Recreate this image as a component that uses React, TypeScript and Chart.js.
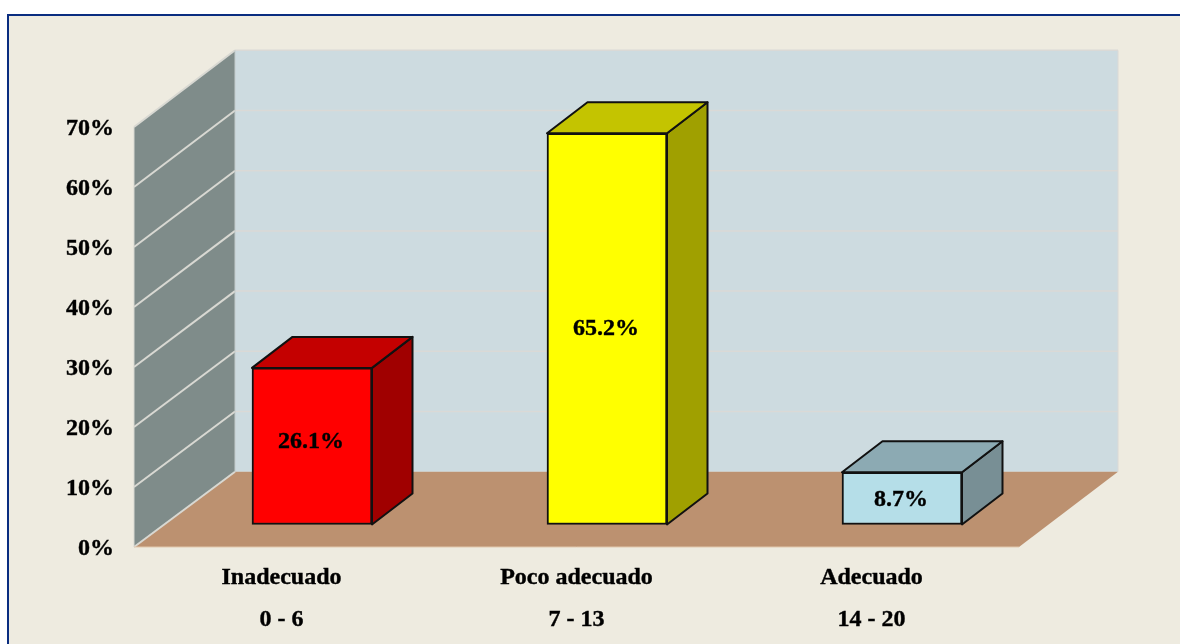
import React, { useEffect, useRef } from "react";
import { Chart, registerables } from "chart.js";

Chart.register(...registerables);

const categories = [["Inadecuado", "0 - 6"], ["Poco adecuado", "7 - 13"], ["Adecuado", "14 - 20"]];
const values = [26.1, 65.2, 8.7];
const valueLabels = ["26.1%", "65.2%", "8.7%"];
const frontColors = ["#FF0000", "#FFFF00", "#B5DEE8"];
const topColors = ["#C40000", "#C4C400", "#8CAAB3"];
const sideColors = ["#A00000", "#A0A000", "#788F95"];
const labelNudge = [-4, 0, 1];

const FONT = { family: '"Liberation Serif", serif', size: 24, weight: "bold" as const };
const WALL_DX_LEFT = 101;
const WALL_DX_RIGHT = 99;
const WALL_DY_FLOOR = 75.3;
const WALL_DY_TOP = 76.7;
const BAR_SHIFT_X = 30.5;
const BAR_SHIFT_Y = 22.5;
const BAR_DX = 40.5;
const BAR_DY = 31;

function poly(ctx: CanvasRenderingContext2D, pts: number[][], fill?: string, stroke?: string, lw = 2) {
  ctx.beginPath();
  pts.forEach((p, i) => (i ? ctx.lineTo(p[0], p[1]) : ctx.moveTo(p[0], p[1])));
  ctx.closePath();
  if (fill) {
    ctx.fillStyle = fill;
    ctx.fill();
  }
  if (stroke) {
    ctx.strokeStyle = stroke;
    ctx.lineWidth = lw;
    ctx.lineJoin = "round";
    ctx.stroke();
  }
}

function segment(ctx: CanvasRenderingContext2D, x1: number, y1: number, x2: number, y2: number, color: string, lw: number) {
  ctx.beginPath();
  ctx.moveTo(x1, y1);
  ctx.lineTo(x2, y2);
  ctx.strokeStyle = color;
  ctx.lineWidth = lw;
  ctx.stroke();
}

const box3d = {
  id: "box3d",
  beforeDatasetsDraw(chart: any) {
    const { ctx, chartArea: a, scales } = chart;
    const y = scales.y;
    const backY = (v: number) => y.getPixelForValue(v) - WALL_DY_FLOOR - ((WALL_DY_TOP - WALL_DY_FLOOR) * v) / 70;
    const top = y.getPixelForValue(70);
    const bottom = y.getPixelForValue(0);
    const bl = a.left + WALL_DX_LEFT;
    const br = a.right + WALL_DX_RIGHT;
    ctx.save();
    // back wall
    poly(ctx, [[bl, backY(70)], [br, backY(70)], [br, backY(0)], [bl, backY(0)]], "#CDDBE0");
    // side wall
    poly(ctx, [[a.left, top], [bl, backY(70)], [bl, backY(0)], [a.left, bottom]], "#7F8C8A");
    // floor
    poly(ctx, [[a.left, bottom], [bl, backY(0)], [br, backY(0)], [a.right, bottom]], "#BC9170");
    // grid
    y.ticks.forEach((t: any) => {
      const py = y.getPixelForValue(t.value);
      if (t.value > 0) {
        segment(ctx, bl, backY(t.value), br, backY(t.value), "#DAD9D6", 1.5);
      }
      segment(ctx, a.left, py, bl, backY(t.value), "#D8D8D2", 2);
    });
    segment(ctx, a.left, top, a.left, bottom, "#D8D8D2", 1);
    segment(ctx, bl, backY(70), bl, backY(0), "#C4CCCC", 1);
    segment(ctx, br, backY(70), br, backY(0), "#DAD9D6", 1);
    segment(ctx, a.left, bottom, a.right, bottom, "#E2C9AE", 1);
    // bar depth faces
    const bars = chart.getDatasetMeta(0).data;
    bars.forEach((b: any, i: number) => {
      const l = b.x - b.width / 2 + BAR_SHIFT_X;
      const r = b.x + b.width / 2 + BAR_SHIFT_X;
      const t = b.y - BAR_SHIFT_Y;
      const g = b.base - BAR_SHIFT_Y;
      poly(ctx, [[r, t], [r + BAR_DX, t - BAR_DY], [r + BAR_DX, g - BAR_DY], [r, g]], sideColors[i], "#111", 2);
      poly(ctx, [[l, t], [l + BAR_DX, t - BAR_DY], [r + BAR_DX, t - BAR_DY], [r, t]], topColors[i], "#111", 2);
    });
    ctx.restore();
    ctx.save();
    ctx.translate(BAR_SHIFT_X, -BAR_SHIFT_Y);
  },
  afterDatasetsDraw(chart: any) {
    const { ctx } = chart;
    ctx.restore();
    ctx.save();
    ctx.fillStyle = "#000";
    ctx.strokeStyle = "#000";
    ctx.lineWidth = 0.4;
    ctx.font = `bold ${FONT.size}px ${FONT.family}`;
    ctx.textAlign = "center";
    ctx.textBaseline = "middle";
    chart.getDatasetMeta(0).data.forEach((b: any, i: number) => {
      const px = b.x + BAR_SHIFT_X - 1;
      const py = (b.y + b.base) / 2 - BAR_SHIFT_Y + labelNudge[i];
      ctx.fillText(valueLabels[i], px, py);
      ctx.strokeText(valueLabels[i], px, py);
    });
    ctx.restore();
  },
};

export default function App() {
  const ref = useRef<HTMLCanvasElement>(null);
  useEffect(() => {
    const chart = new Chart(ref.current as HTMLCanvasElement, {
      type: "bar",
      data: {
        labels: categories,
        datasets: [
          {
            data: values,
            backgroundColor: frontColors,
            borderColor: "#111",
            borderWidth: 2,
            borderSkipped: false,
            barThickness: 120,
            clip: false,
          } as any,
        ],
      },
      options: {
        animation: false,
        responsive: false,
        layout: { padding: { top: 127, right: 161, left: 0, bottom: 0 } },
        plugins: { legend: { display: false }, tooltip: { enabled: false } },
        scales: {
          x: {
            grid: { display: false },
            border: { display: false },
            ticks: {
              color: "#000",
              font: { ...FONT, lineHeight: 1.78 },
              padding: 1,
              maxRotation: 0,
              autoSkip: false,
              textStrokeColor: "#000",
              textStrokeWidth: 0.4,
            },
            afterFit: (s: any) => {
              s.height = 97;
            },
          },
          y: {
            min: 0,
            max: 70,
            grid: { display: false },
            border: { display: false },
            ticks: {
              stepSize: 10,
              color: "#000",
              font: FONT,
              padding: 12,
              labelOffset: 1.5,
              textStrokeColor: "#000",
              textStrokeWidth: 0.4,
              callback: (v: any) => `${v}%`,
            },
            afterFit: (s: any) => {
              s.width = 134;
            },
          },
        },
      },
      plugins: [box3d],
    } as any);
    return () => chart.destroy();
  }, []);

  return (
    <div style={{ position: "fixed", left: 0, top: 0, width: 1180, height: 644, background: "#FFFFFF", overflow: "hidden" }}>
      <div
        style={{
          position: "absolute",
          left: 7,
          top: 14,
          right: 0,
          bottom: 0,
          background: "#EEEBE0",
          borderLeft: "2px solid #0A2D80",
          borderTop: "2px solid #0A2D80",
        }}
      />
      <canvas ref={ref} width={1180} height={644} style={{ position: "absolute", left: 0, top: 0, display: "block" }} />
    </div>
  );
}
